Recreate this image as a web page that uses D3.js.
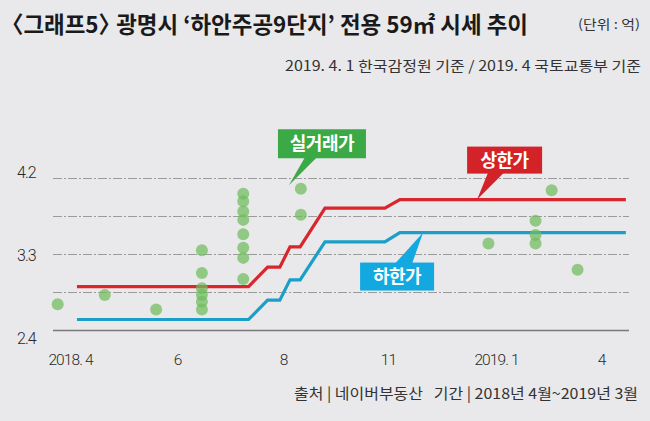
<!DOCTYPE html>
<html><head><meta charset="utf-8">
<script src="https://cdn.jsdelivr.net/npm/d3@7"></script>
<style>
html,body{margin:0;padding:0;background:#e9e9eb;}
svg{display:block;}
</style></head>
<body>
<svg id="c" width="650" height="421"></svg>
<script>
// ---- data ----
const tickMonths = [0, 2, 4, 7, 9, 12];
const tickLabels = ["2018. 4", "6", "8", "11", "2019. 1", "4"];
const yTicks = [2.4, 3.3, 4.2];
const gridValues = [2.85, 3.3, 3.75, 4.2];
const lineMonths = [0.13, 3.35, 3.71, 3.94, 4.2, 4.49, 5.2, 6.91, 7.22, 12.71];
const upperPrice = [2.92, 2.92, 3.15, 3.15, 3.39, 3.39, 3.85, 3.85, 3.95, 3.95];
const lowerPrice = [2.53, 2.53, 2.76, 2.76, 3.00, 3.00, 3.45, 3.45, 3.56, 3.56];
const dealMonths = [-0.23, 0.65, 1.61, 2.47, 2.47, 2.47, 2.47, 2.47, 2.47,
  3.25, 3.25, 3.25, 3.25, 3.25, 3.25, 3.25, 3.25, 4.51, 4.51,
  8.86, 10.13, 10.13, 10.13, 10.59, 11.33];
const dealPrice = [2.71, 2.82, 2.65, 3.35, 3.08, 2.90, 2.82, 2.74, 2.65,
  4.02, 3.93, 3.81, 3.71, 3.54, 3.38, 3.26, 3.01, 4.08, 3.77,
  3.43, 3.70, 3.53, 3.43, 4.06, 3.12];

const svg = d3.select("#c");
const x = d3.scaleLinear().domain(tickMonths).range([70, 177, 283, 388, 496, 601]);
const y = d3.scaleLinear().domain([2.4, 4.2]).range([330.5, 178.5]);
const yLab = d3.scaleLinear().domain([2.4, 4.2]).range([338, 172]);
const KR = "'Noto Sans CJK KR','Noto Sans',sans-serif";
const NUM = "'Roboto','Liberation Sans',sans-serif";

// title
const title = svg.append("text").attr("x", 1).attr("y", 33)
  .attr("font-family", KR).attr("font-weight", 700).attr("font-size", 23)
  .attr("fill", "#1a1a1a").attr("textLength", 527).attr("lengthAdjust", "spacingAndGlyphs");
title.append("tspan").text("〈그래프5〉");
title.append("tspan").attr("dx", -5).text("광명시 ‘하안주공9단지’ 전용 59㎡ 시세 추이");

svg.append("text").attr("x", 640).attr("y", 29).attr("text-anchor", "end")
  .attr("font-family", KR).attr("font-size", 13).attr("fill", "#333")
  .attr("textLength", 62).attr("lengthAdjust", "spacingAndGlyphs")
  .text("(단위 : 억)");
svg.append("text").attr("x", 641).attr("y", 71).attr("text-anchor", "end")
  .attr("font-family", KR).attr("font-size", 14).attr("fill", "#333")
  .attr("textLength", 356).attr("lengthAdjust", "spacingAndGlyphs")
  .text("2019. 4. 1 한국감정원 기준 / 2019. 4 국토교통부 기준");

// grid
const grid = svg.append("g");
gridValues.forEach(v => {
  grid.append("line").attr("x1", 53).attr("x2", 629).attr("y1", y(v)).attr("y2", y(v))
    .attr("stroke", "#9b9b9b").attr("stroke-width", 1.2).attr("stroke-dasharray", "9,2,2,2");
});
grid.append("line").attr("x1", 53).attr("x2", 629).attr("y1", y(2.4)).attr("y2", y(2.4))
  .attr("stroke", "#7a7a7a").attr("stroke-width", 1.3);

// y labels
svg.append("g").selectAll("text").data(yTicks).join("text")
  .attr("x", 17).attr("y", d => yLab(d)).attr("dy", "0.35em")
  .attr("font-family", NUM).attr("font-weight", 300).attr("font-size", 16).attr("fill", "#2a2a2a")
  .attr("letter-spacing", -1)
  .text(d => d.toFixed(1));

// x axis labels via d3 axis
const xAxis = svg.append("g").attr("transform", "translate(0,351)")
  .call(d3.axisBottom(x).tickValues(tickMonths).tickFormat((d, i) => tickLabels[i]).tickSize(0));
xAxis.select(".domain").remove();
xAxis.selectAll("text").attr("font-family", NUM).attr("font-weight", 300).attr("font-size", 15.5).attr("fill", "#2a2a2a")
  .attr("letter-spacing", -0.9).attr("dy", "0.32em").attr("y", 9);

// lines
const pts = (vals) => lineMonths.map((m, i) => [x(m), y(vals[i])]);
const line = d3.line();
svg.append("path").attr("d", line(pts(upperPrice))).attr("fill", "none")
  .attr("stroke", "#d9262d").attr("stroke-width", 3.2);
svg.append("path").attr("d", line(pts(lowerPrice))).attr("fill", "none")
  .attr("stroke", "#1a9fc8").attr("stroke-width", 3.2);

// dots
svg.append("g").selectAll("circle").data(dealMonths).join("circle")
  .attr("cx", d => x(d)).attr("cy", (d, i) => y(dealPrice[i])).attr("r", 6)
  .attr("fill", "#6fbd5c").attr("fill-opacity", 0.72);

// callouts
function callout(tipM, tipV, box, base, color, label) {
  const tx = x(tipM), ty = y(tipV);
  const g = svg.append("g");
  g.append("path").attr("d", `M${tx + base[0]},${ty + base[1]} L${tx + base[2]},${ty + base[3]} L${tx},${ty} Z`)
    .attr("fill", color);
  g.append("rect").attr("x", tx + box[0]).attr("y", ty + box[1]).attr("width", box[2]).attr("height", box[3])
    .attr("fill", color);
  g.append("text").attr("x", tx + box[0] + box[2] / 2).attr("y", ty + box[1] + box[3] / 2)
    .attr("dy", "0.36em").attr("text-anchor", "middle")
    .attr("font-family", KR).attr("font-weight", 700).attr("font-size", 18).attr("fill", "#fff")
    .attr("letter-spacing", -0.5)
    .text(label);
}
callout(4.17, 4.12, [-11, -56, 88, 29], [16, -28, 28, -28], "#3aa946", "실거래가");
callout(8.65, 3.95, [-10, -53, 75, 27], [11, -27, 27, -27], "#d42229", "상한가");
callout(7.65, 3.56, [-63, 30, 74, 28], [-28, 31, -11, 31], "#14a8e0", "하한가");

// footer
svg.append("text").attr("x", 638).attr("y", 399).attr("text-anchor", "end")
  .attr("font-family", KR).attr("font-size", 15).attr("fill", "#333")
  .style("white-space", "pre")
  .attr("textLength", 344).attr("lengthAdjust", "spacingAndGlyphs")
  .text("출처 | 네이버부동산   기간 | 2018년 4월~2019년 3월");
</script>
</body></html>
